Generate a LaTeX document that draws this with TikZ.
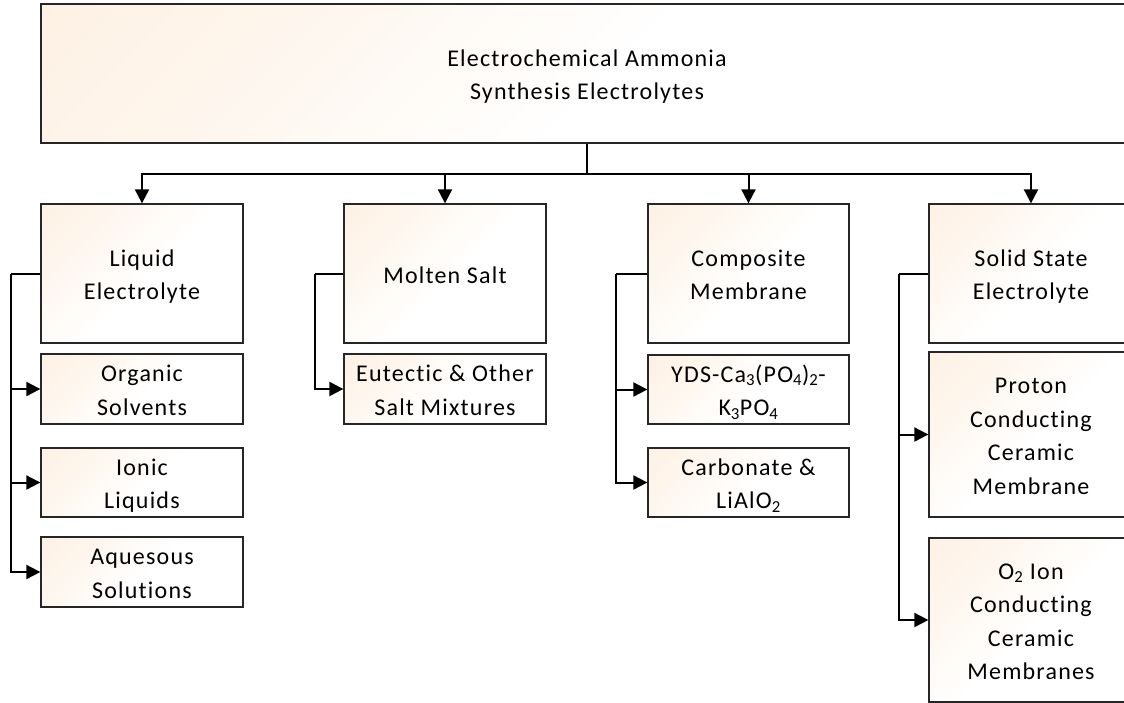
\documentclass[tikz,border=0pt]{standalone}
\usepackage{fontspec}
\setmainfont{Carlito}[LetterSpace=5,Ligatures=NoCommon]
\usetikzlibrary{arrows.meta}
\definecolor{peach}{RGB}{253,237,220}
\pgfdeclareverticalshading{boxshade}{100bp}{color(0bp)=(white); color(48bp)=(white); color(72bp)=(peach!55!white); color(100bp)=(peach)}
\newcommand\boxtext[1]{\rule{0pt}{25pt}#1\rule[-6pt]{0pt}{6pt}}
\begin{document}
\begin{tikzpicture}[x=1pt,y=-1pt,
  box/.style={draw=black!85, line width=1.3pt, shading=boxshade,
    shading angle=45, align=center, inner sep=0pt,
    font=\fontsize{24}{33.5}\selectfont},
  conn/.style={line width=2pt, -{Triangle[length=14pt,width=14pt]}},
  trunk/.style={line width=2pt}]
\clip (0,0) rectangle (1124,702);
\useasboundingbox (0,0) rectangle (1124,702);
\node[box, minimum width=1092pt, minimum height=139pt] (top) at (587,73.5) {\boxtext{Electrochemical Ammonia\\Synthesis Electrolytes}};
\node[box, minimum width=202pt, minimum height=139pt] (liq) at (142,273.5) {\boxtext{Liquid\\Electrolyte}};
\node[box, minimum width=202pt, minimum height=139pt] (mol) at (445,273.5) {\boxtext{Molten Salt}};
\node[box, minimum width=201pt, minimum height=139pt] (com) at (748.5,273.5) {\boxtext{Composite\\Membrane}};
\node[box, minimum width=204pt, minimum height=139pt] (sol) at (1031,273.5) {\boxtext{Solid State\\Electrolyte}};
\node[box, minimum width=202pt, minimum height=70pt] (org) at (142,389) {\boxtext{Organic\\Solvents}};
\node[box, minimum width=202pt, minimum height=69pt] (ion) at (142,482.5) {\boxtext{Ionic\\Liquids}};
\node[box, minimum width=202pt, minimum height=70pt] (aqu) at (142,572) {\boxtext{Aquesous\\Solutions}};
\node[box, minimum width=202pt, minimum height=70pt] (eut) at (445,389) {\boxtext{Eutectic \& Other\\Salt Mixtures}};
\node[box, minimum width=201pt, minimum height=69pt] (yds) at (748.5,389.5) {\boxtext{YDS-Ca\textsubscript{3}(PO\textsubscript{4})\textsubscript{2}-\\K\textsubscript{3}PO\textsubscript{4}}};
\node[box, minimum width=201pt, minimum height=69pt] (car) at (748.5,482.5) {\boxtext{Carbonate \&\\LiAlO\textsubscript{2}}};
\node[box, minimum width=204pt, minimum height=165pt] (pro) at (1031,434.5) {\boxtext{Proton\\Conducting\\Ceramic\\Membrane}};
\node[box, minimum width=204pt, minimum height=164pt] (oxy) at (1031,620) {\boxtext{O\textsubscript{2} Ion\\Conducting\\Ceramic\\Membranes}};
\draw[trunk] (top.south) -- ++(0,30) coordinate (j);
\foreach \n in {liq,mol,com,sol} \draw[conn] (j) -| (\n.north);
\draw[trunk] (liq.west) -- ++(-29,0) coordinate (bl);
\foreach \n in {org,ion,aqu} \draw[conn] (bl) |- (\n.west);
\draw[trunk] (mol.west) -- ++(-28,0) coordinate (bm);
\draw[conn] (bm) |- (eut.west);
\draw[trunk] (com.west) -- ++(-31,0) coordinate (bc);
\foreach \n in {yds,car} \draw[conn] (bc) |- (\n.west);
\draw[trunk] (sol.west) -- ++(-29,0) coordinate (bs);
\foreach \n in {pro,oxy} \draw[conn] (bs) |- (\n.west);
\end{tikzpicture}
\end{document}
